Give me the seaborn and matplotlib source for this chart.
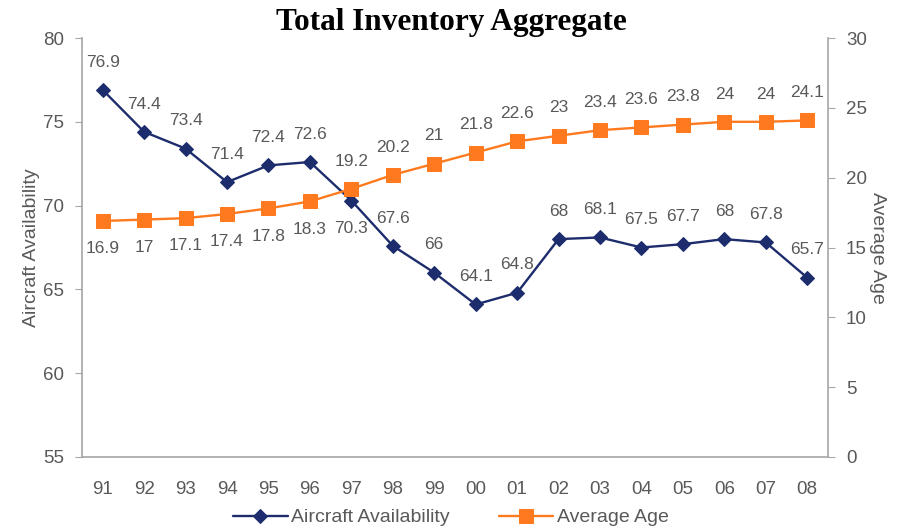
import numpy as np
import pandas as pd
import seaborn as sns
import matplotlib.pyplot as plt

years = ['91', '92', '93', '94', '95', '96', '97', '98', '99', '00',
         '01', '02', '03', '04', '05', '06', '07', '08']
availability = [76.9, 74.4, 73.4, 71.4, 72.4, 72.6, 70.3, 67.6, 66, 64.1,
                64.8, 68, 68.1, 67.5, 67.7, 68, 67.8, 65.7]
avg_age = [16.9, 17, 17.1, 17.4, 17.8, 18.3, 19.2, 20.2, 21, 21.8,
           22.6, 23, 23.4, 23.6, 23.8, 24, 24, 24.1]

# label below the point for these (Excel-ish placement)
avail_below = ['97']
age_below = ['91', '92', '93', '94', '95', '96']

sns.set_style('white')
plt.rcParams['font.family'] = ['Liberation Sans', 'DejaVu Sans']

blue = '#1c2c6c'
orange = '#ff7a1f'
grey = '#595959'
spine = '#a6a6a6'

df = pd.DataFrame({'x': np.arange(len(years)), 'avail': availability, 'age': avg_age})

fig = plt.figure(figsize=(9.02, 5.28), dpi=100)
ax = fig.add_axes([0.0909, 0.1345, 0.827, 0.7935])
ax2 = ax.twinx()

sns.lineplot(data=df, x='x', y='avail', ax=ax, color=blue, marker='D', markersize=7,
             markeredgecolor=blue, linewidth=1.7, label='Aircraft Availability', legend=False)
sns.lineplot(data=df, x='x', y='age', ax=ax2, color=orange, marker='s', markersize=10,
             markeredgecolor=orange, linewidth=1.7, label='Average Age', legend=False)

ax.set_ylim(55, 80)
ax2.set_ylim(0, 30)
ax.set_xlim(-0.5, len(years) - 0.5)
ax.set_yticks(range(55, 81, 5))
ax2.set_yticks(range(0, 31, 5))

# category ticks sit between categories, labels in the middle
ax.set_xticks(np.arange(-0.5, len(years), 1.0))
ax.set_xticklabels([])
ax.set_xticks(np.arange(len(years)), minor=True)
ax.set_xticklabels(years, minor=True)
ax.tick_params(axis='x', which='minor', length=0, pad=17, labelsize=13.5, labelcolor=grey)
ax.tick_params(axis='x', which='major', length=5, color=spine, direction='out')
ax.tick_params(axis='y', length=5, color=spine, labelsize=13.5, labelcolor=grey, direction='out', pad=8)
ax2.tick_params(axis='y', length=5, color=spine, labelsize=13.5, labelcolor=grey, direction='out', pad=8)

for a in (ax, ax2):
    for s in a.spines.values():
        s.set_visible(False)
ax.spines['left'].set_visible(True)
ax.spines['bottom'].set_visible(True)
ax2.spines['right'].set_visible(True)
for s in (ax.spines['left'], ax.spines['bottom'], ax2.spines['right']):
    s.set_color(spine)
    s.set_linewidth(1.2)

ax.set_xlabel('')
ax.set_ylabel('Aircraft Availability', fontsize=14, color=grey, labelpad=2)
ax2.set_ylabel('Average Age', fontsize=14, color=grey, rotation=270, labelpad=14)

for i, (yr, v) in enumerate(zip(years, availability)):
    off = -20 if yr in avail_below else 20
    ax.annotate(f'{v:g}', (i, v), xytext=(0, off), textcoords='offset points',
                ha='center', va='center', fontsize=12.5, color=grey)
for i, (yr, v) in enumerate(zip(years, avg_age)):
    off = -20 if yr in age_below else 20
    ax2.annotate(f'{v:g}', (i, v), xytext=(0, off), textcoords='offset points',
                 ha='center', va='center', fontsize=12.5, color=grey)

fig.suptitle('Total Inventory Aggregate', x=0.5, y=0.985, fontsize=22.5, fontweight='bold',
             family='Liberation Serif', color='black')

h1, l1 = ax.get_legend_handles_labels()
h2, l2 = ax2.get_legend_handles_labels()
fig.legend(h1 + h2, l1 + l2, loc='lower center', bbox_to_anchor=(0.5, -0.03), ncol=2,
           frameon=False, fontsize=14, labelcolor=grey, handlelength=2.8, columnspacing=2.5,
           handletextpad=0.2)

fig.savefig('out.png', dpi=100)
